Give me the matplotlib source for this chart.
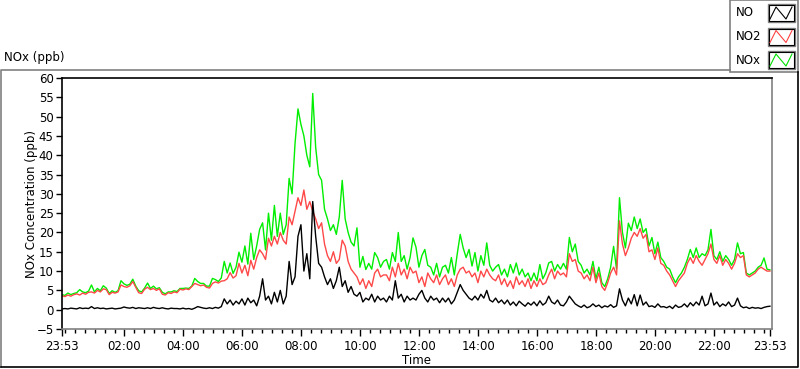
import matplotlib
matplotlib.use("Agg")
import numpy as np
import matplotlib.pyplot as plt
from matplotlib.patches import Rectangle
from matplotlib.lines import Line2D

# hours after 23:53, one sample every 6 minutes (10 per hour)
step_h = 0.1

no = [
    0.2, 0.3, 0.2, 0.4, 0.3, 0.2, 0.5, 0.3, 0.4, 0.3,
    0.8, 0.3, 0.5, 0.3, 0.4, 0.2, 0.3, 0.4, 0.2, 0.3,
    0.4, 0.7, 0.5, 0.4, 0.6, 0.3, 0.5, 0.4, 0.3, 0.5,
    0.3, 0.6, 0.4, 0.3, 0.5, 0.3, 0.2, 0.4, 0.3, 0.3,
    0.2, 0.4, 0.2, 0.3, 0.1, 0.4, 0.8, 0.6, 0.4, 0.3,
    0.5, 0.3, 0.6, 0.4, 0.8, 2.8, 1.5, 2.5, 1.2, 2.2,
    1.5, 2.8, 1.2, 3.0, 1.8, 2.5, 1.0, 3.5, 8.0, 2.5,
    3.5, 1.5, 4.5, 2.0, 5.0, 1.5, 3.5, 12.5, 6.5, 8.5,
    19.0, 22.0, 10.0, 14.5, 8.0, 28.0, 19.0, 12.0, 11.0, 8.5,
    6.5, 8.0, 5.5, 7.5, 11.0, 6.0, 7.5, 4.5, 6.0, 4.0,
    3.5, 4.5, 2.0, 3.0, 2.5, 4.0, 2.0, 3.5, 2.5, 3.0,
    2.0, 3.5, 2.5, 7.5, 3.0, 4.0, 2.0, 3.5, 2.5, 3.0,
    2.5, 4.0, 5.0, 3.0, 2.0, 3.5, 2.5, 3.0, 1.8, 3.0,
    2.0, 3.0, 1.5, 2.5, 4.5, 6.5, 5.0, 4.0, 3.0, 2.5,
    3.5, 2.5, 4.0, 3.0, 5.0, 2.5, 2.0, 3.0, 1.8, 2.5,
    1.5, 2.5, 1.2, 2.0, 1.0, 2.2, 1.5, 0.9, 1.8, 1.2,
    2.0, 1.0, 2.3, 1.2, 1.8, 3.5, 2.0, 1.5, 2.5, 1.2,
    1.0, 2.0, 3.5, 2.5, 1.5, 1.0, 0.6, 1.2, 0.5, 0.8,
    1.5, 0.8, 1.2, 0.5, 1.0, 0.7, 1.3, 0.6, 1.0, 5.4,
    2.5, 1.0, 3.0, 1.5, 3.9, 1.0, 3.8, 1.2, 2.0, 0.8,
    1.0, 0.6, 1.5, 0.7, 0.8, 0.5, 0.9, 0.3, 1.2, 0.6,
    0.8, 1.5, 0.7, 1.8, 1.0, 2.0, 1.2, 3.5, 1.0, 1.5,
    4.3, 1.2, 2.0, 0.8, 1.5, 1.0, 2.0, 0.8, 1.2, 3.0,
    1.0, 0.5, 0.7, 0.3, 0.6, 0.4, 0.5, 0.3, 0.6, 0.8,
    0.9,
]

no2 = [
    3.6, 3.4, 3.8, 3.5, 3.9, 4.1, 3.8, 4.3, 4.0, 4.5,
    4.6, 4.3, 5.0, 4.6, 5.4, 5.2, 3.9, 4.5, 4.3, 4.6,
    6.4, 6.0, 5.8, 6.2, 7.3, 5.8, 4.4, 4.2, 5.3, 5.8,
    5.2, 5.5, 5.0, 5.4, 4.0, 3.8, 4.4, 4.2, 4.6, 4.4,
    5.3, 5.1, 5.4, 5.2, 6.0, 6.8, 6.5, 6.2, 6.4, 5.8,
    5.6, 6.8, 7.2, 6.9, 7.4, 7.5, 8.0, 9.6, 8.2, 8.8,
    12.0, 9.5, 11.5, 8.8, 12.8, 10.5, 13.5, 15.5, 14.5, 13.0,
    18.5, 16.5, 19.0, 17.0, 20.0, 18.0, 17.0, 24.0, 22.0, 25.5,
    29.0, 27.0, 31.0, 26.0, 28.0, 25.5, 23.5, 21.0, 22.5, 17.0,
    14.0, 12.5, 15.0, 12.0, 13.0, 18.0, 16.5, 12.5, 10.5, 9.5,
    8.5, 6.5, 8.0, 5.5, 7.5, 6.0, 9.5, 10.5, 8.5, 9.0,
    9.0, 7.5, 11.0, 8.5, 12.0, 9.0, 10.5, 8.0, 11.0, 9.5,
    10.0, 7.0, 8.5, 6.0, 9.5, 8.0, 7.0, 9.0, 6.5, 8.0,
    9.0, 6.5, 8.0, 6.0, 9.0, 10.5, 11.0, 9.5, 10.0, 8.5,
    9.5, 7.0, 10.0, 8.5, 10.5, 9.0, 8.0, 7.5, 9.0, 6.5,
    8.0, 6.0, 7.5, 5.5, 8.5, 6.5, 7.5, 6.0, 8.0, 5.5,
    7.5, 6.0, 8.0, 6.5, 7.0, 9.0, 10.5, 8.0, 10.0, 9.0,
    9.5, 8.5, 14.5, 12.5, 13.0, 10.0, 9.5, 8.0, 9.0, 7.5,
    11.0, 7.0, 9.5, 6.0, 5.0, 7.0, 9.5, 11.0, 9.0, 23.0,
    17.0, 14.0, 16.0, 18.5, 20.0, 19.0, 21.0, 18.5, 19.5, 15.0,
    15.5, 13.0, 16.0, 12.0, 11.5, 10.0, 9.0, 7.5, 6.0, 7.5,
    8.5, 9.5, 12.0, 13.5, 12.0, 14.0, 12.5, 11.5, 13.0, 14.5,
    17.0, 13.0, 12.0, 14.0, 11.5, 13.0, 12.0, 10.5, 12.0, 14.5,
    13.5, 14.0, 9.0, 8.5, 9.0, 9.5, 10.5, 11.0, 10.5, 10.0,
    10.0,
]

nox = [
    3.9, 3.7, 4.3, 3.9, 4.2, 4.4, 5.2, 4.6, 4.4, 4.8,
    6.4, 4.6, 5.5, 4.9, 6.2, 5.6, 4.2, 4.9, 4.5, 4.9,
    7.5, 6.7, 6.3, 6.6, 7.9, 6.1, 4.9, 4.6, 5.6, 6.9,
    5.5, 6.1, 5.4, 5.7, 4.5, 4.1, 4.6, 4.6, 4.9, 4.7,
    5.5, 5.5, 5.6, 5.5, 6.1, 8.1, 7.3, 6.8, 6.8, 6.1,
    6.1, 8.1, 7.8, 7.3, 8.2, 12.5, 9.5, 12.1, 9.4, 11.0,
    14.9, 12.3, 16.5, 11.8, 19.8, 13.0, 16.5, 20.8, 22.5, 15.5,
    25.0, 18.0, 27.0, 19.0, 25.0, 19.5, 22.0, 34.0, 30.0, 43.0,
    52.0, 48.0, 45.0, 40.0, 37.0, 56.0, 42.0, 35.0, 33.5, 26.0,
    23.5, 20.5, 22.0, 19.5, 24.0, 33.5, 23.5, 20.0, 17.5, 16.5,
    21.2, 11.0, 13.8, 10.4, 12.0, 10.5, 14.8, 13.5, 11.0, 12.5,
    13.0, 10.5, 14.8, 12.5, 20.0, 12.5, 14.0, 10.5, 13.5, 18.6,
    16.2, 11.0, 14.0, 15.6, 11.5, 11.0, 9.0, 12.0, 8.5, 11.0,
    11.5, 9.5, 13.5, 9.0, 14.5, 19.5, 16.0, 13.5, 15.6, 11.3,
    14.8, 10.0, 14.0, 11.5, 17.3, 11.5, 10.0, 11.0, 11.7, 9.0,
    10.5, 8.5, 11.7, 9.5, 12.1, 9.0, 10.5, 8.5, 9.5, 7.5,
    9.5, 7.5, 11.7, 8.0, 9.5, 12.1, 12.5, 10.0, 11.7, 10.5,
    12.0, 10.5, 18.7, 15.0, 17.0, 12.5, 11.5, 9.5, 10.5, 9.0,
    12.5, 8.0, 11.0, 7.0, 6.0, 8.0, 11.0, 16.4, 10.5, 29.0,
    20.0, 16.0, 22.4, 20.5, 24.0, 21.0, 23.5, 20.0, 21.0, 16.5,
    18.7, 14.5, 17.5, 13.5, 12.5, 11.0, 10.5, 8.5, 7.0, 8.5,
    9.5, 11.0, 13.0, 15.6, 13.5, 16.0, 13.5, 14.5, 14.0, 15.5,
    20.8, 14.0, 13.0, 15.0, 12.5, 14.0, 13.0, 11.5, 13.0, 17.3,
    14.5, 14.8, 9.5, 9.0, 9.5, 10.0, 11.0, 11.5, 13.4, 10.5,
    10.3,
]

tick_labels = ["23:53", "02:00", "04:00", "06:00", "08:00", "10:00", "12:00",
               "14:00", "16:00", "18:00", "20:00", "22:00", "23:53"]
tick_hours = [0.0] + [2 + 7 / 60 + 2 * i for i in range(11)] + [24.0]

t = np.arange(len(no)) * step_h

plt.rcParams['font.family'] = ['DejaVu Sans']
plt.rcParams['font.size'] = 8.5

fig = plt.figure(figsize=(8, 3.69), dpi=100)

# frame / legend layer in pixel coordinates
bg = fig.add_axes([0, 0, 1, 1])
bg.set_xlim(0, 800)
bg.set_ylim(369, 0)
bg.axis('off')
bg.plot([1, 1, 730], [367, 69.5, 69.5], color='#808080', lw=1.2)
bg.plot([1, 798, 798], [367, 367, 72], color='black', lw=1.2)
bg.add_patch(Rectangle((730, 0), 68, 72, fill=True, facecolor='white',
                       edgecolor='#808080', lw=1.2))
bg.text(4, 58, "NOx (ppb)", fontsize=8.5, va='center', ha='left')
for i, (lab, col) in enumerate([("NO", "black"), ("NO2", "#ff4040"), ("NOx", "#00e000")]):
    yc = 13 + i * 23.5
    bg.text(736, yc, lab, fontsize=8.5, va='center', ha='left')
    bg.add_patch(Rectangle((768, yc - 9), 27, 18, fill=False,
                           edgecolor='#808080', lw=1.0))
    bg.add_patch(Rectangle((769, yc - 8), 25, 16, fill=False,
                           edgecolor='black', lw=0.8))
    bg.add_line(Line2D([770, 776, 786, 792], [yc + 6, yc - 6, yc + 6, yc - 6],
                       color=col, lw=0.8))

ax = fig.add_axes([62 / 800, 1 - 329 / 369, 710 / 800, 251 / 369])
ax.plot(t, nox, color='#00ee00', lw=1.0)
ax.plot(t, no2, color='#ff4848', lw=1.0)
ax.plot(t, no, color='black', lw=1.0)

ax.set_xlim(0, 24.07)
ax.set_ylim(-5, 60)
ax.set_yticks(range(-5, 61, 5))
ax.set_xticks(tick_hours)
ax.set_xticklabels(tick_labels)
ax.set_xticks([7 / 60 + i / 3 for i in range(72)], minor=True)
ax.tick_params(axis='both', which='major', length=4, width=1, direction='out', pad=2)
ax.tick_params(axis='x', which='minor', length=3, width=1, direction='out')
ax.tick_params(axis='x', which='major', length=5, pad=3)
ax.spines['top'].set_color('black')
ax.spines['left'].set_color('black')
ax.spines['bottom'].set_color('#808080')
ax.spines['right'].set_color('#808080')
for s in ax.spines.values():
    s.set_linewidth(1.2)
ax.set_xlabel("Time", labelpad=1)
ax.set_ylabel("NOx Concentration (ppb)", labelpad=-1)

fig.savefig("out.png", dpi=100)
